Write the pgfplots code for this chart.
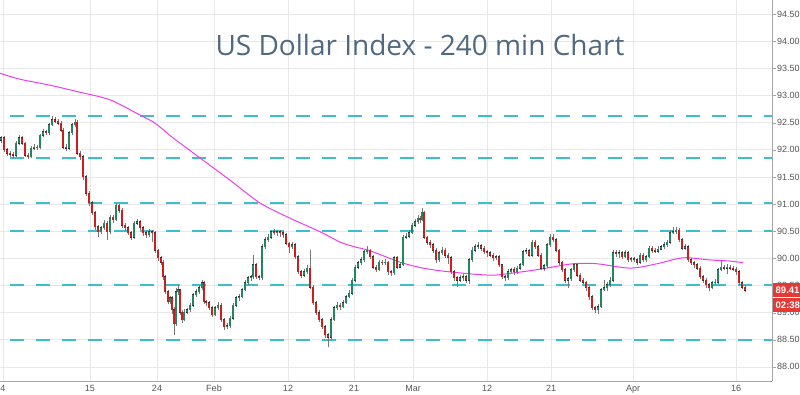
\documentclass[border=0pt]{standalone}
\usepackage{pgfplots}
\pgfplotsset{compat=1.18}
\usepackage{pgfplotstable}
\usepackage{fontspec}
\setmainfont{Liberation Sans}
\newfontfamily\titlefont{Open Sans}
\definecolor{upg}{RGB}{34,135,95}
\definecolor{dnr}{RGB}{205,30,30}
\definecolor{wickc}{RGB}{120,120,120}
\definecolor{dashc}{RGB}{60,190,205}
\definecolor{mac}{RGB}{240,60,240}
\definecolor{gridc}{RGB}{232,232,232}
\definecolor{labc}{RGB}{85,85,85}
\definecolor{titc}{RGB}{80,104,128}
\definecolor{boxr}{RGB}{229,57,53}

\pgfplotstableread{
x o h l c
1 92.18 92.26 92.12 92.22
4 92.22 92.25 91.96 92.00
7 92.00 92.04 91.88 91.94
10 91.94 91.98 91.86 91.92
13 91.92 91.95 91.84 91.90
16 91.90 92.16 91.87 92.12
19 92.12 92.27 92.09 92.22
22 92.22 92.25 92.08 92.12
25 92.12 92.14 91.86 91.90
28 91.90 91.94 91.83 91.87
31 91.87 92.07 91.84 92.03
34 92.03 92.10 91.99 92.05
37 92.05 92.09 92.00 92.04
40 92.04 92.30 92.02 92.27
43 92.27 92.38 92.24 92.33
46 92.33 92.37 92.27 92.31
49 92.31 92.50 92.28 92.46
52 92.46 92.62 92.43 92.55
55 92.55 92.60 92.49 92.53
58 92.53 92.57 92.45 92.49
61 92.49 92.53 92.32 92.36
63 92.36 92.40 92.01 92.05
66 92.05 92.10 91.98 92.03
69 92.03 92.35 92.00 92.31
72 92.31 92.50 92.28 92.46
75 92.46 92.56 92.42 92.51
77 92.51 92.54 91.90 91.94
80 91.94 91.97 91.82 91.87
83 91.87 91.90 91.45 91.50
86 91.50 91.53 91.15 91.20
89 91.20 91.24 90.97 91.02
92 91.02 91.06 90.79 90.84
95 90.84 90.88 90.52 90.58
98 90.58 90.62 90.40 90.49
101 90.49 90.60 90.44 90.56
104 90.56 90.70 90.52 90.65
107 90.65 90.68 90.33 90.49
110 90.49 90.80 90.45 90.76
113 90.76 90.80 90.66 90.71
116 90.71 91.02 90.68 90.98
119 90.98 91.01 90.84 90.89
122 90.89 90.92 90.56 90.61
125 90.61 90.66 90.50 90.56
128 90.56 90.60 90.43 90.47
131 90.47 90.50 90.33 90.39
134 90.39 90.69 90.36 90.65
137 90.65 90.72 90.61 90.67
140 90.67 90.70 90.52 90.56
143 90.56 90.60 90.42 90.47
146 90.47 90.51 90.38 90.43
149 90.43 90.54 90.40 90.49
152 90.49 90.52 90.30 90.47
155 90.47 90.50 90.10 90.15
158 90.15 90.18 89.96 90.01
161 90.01 90.05 89.88 89.93
163 89.93 89.97 89.61 89.66
165 89.66 89.70 89.34 89.38
168 89.38 89.42 89.15 89.20
170 89.20 89.31 89.16 89.27
172 89.27 89.31 88.98 89.05
174 89.05 89.10 88.58 88.80
176 88.80 89.45 88.76 89.38
178 89.38 89.50 89.33 89.42
180 89.42 89.44 88.96 89.01
182 89.01 89.05 88.80 88.87
184 88.87 89.06 88.84 89.01
187 89.01 89.09 88.98 89.05
190 89.05 89.18 89.01 89.14
193 89.14 89.37 89.11 89.33
196 89.33 89.43 89.29 89.38
199 89.38 89.50 89.34 89.46
202 89.46 89.60 89.42 89.55
204 89.55 89.58 89.15 89.20
206 89.20 89.24 89.12 89.18
209 89.18 89.22 89.04 89.09
212 89.09 89.12 88.92 88.96
215 88.96 89.13 88.93 89.09
218 89.09 89.20 89.05 89.14
221 89.14 89.17 88.83 88.87
224 88.87 88.90 88.68 88.74
227 88.74 88.80 88.70 88.76
230 88.76 88.94 88.72 88.90
233 88.90 89.18 88.87 89.14
236 89.14 89.31 89.11 89.27
239 89.27 89.34 89.22 89.29
242 89.29 89.46 89.26 89.42
245 89.42 89.60 89.39 89.55
248 89.55 89.68 89.50 89.64
251 89.64 89.70 89.58 89.66
253 89.66 90.07 89.62 89.88
256 89.88 89.92 89.62 89.66
259 89.66 89.70 89.60 89.64
262 89.64 90.26 89.60 90.21
265 90.21 90.39 90.17 90.34
268 90.34 90.44 90.30 90.39
271 90.39 90.53 90.36 90.49
274 90.49 90.54 90.43 90.47
277 90.47 90.53 90.41 90.49
280 90.49 90.52 90.40 90.47
283 90.47 90.50 90.38 90.43
286 90.43 90.46 90.24 90.28
289 90.28 90.31 90.10 90.21
292 90.21 90.30 90.17 90.25
295 90.25 90.28 89.98 90.03
298 90.03 90.06 89.71 89.75
301 89.75 89.78 89.64 89.69
304 89.69 89.80 89.66 89.75
307 89.75 89.88 89.72 89.82
310 89.82 90.15 89.43 89.47
313 89.47 89.50 89.14 89.18
316 89.18 89.22 88.95 89.00
319 89.00 89.04 88.82 88.87
322 88.87 88.90 88.69 88.74
325 88.74 88.78 88.53 88.59
328 88.59 88.62 88.37 88.55
331 88.55 88.91 88.50 88.87
334 88.87 89.13 88.84 89.09
337 89.09 89.19 89.05 89.14
340 89.14 89.18 89.04 89.11
343 89.11 89.23 89.08 89.18
346 89.18 89.33 89.15 89.29
349 89.29 89.41 89.26 89.36
352 89.36 89.64 89.33 89.60
355 89.60 89.88 89.57 89.84
358 89.84 89.96 89.80 89.92
361 89.92 90.02 89.88 89.97
364 89.97 90.16 89.93 90.12
367 90.12 90.22 90.08 90.15
370 90.15 90.18 89.99 90.03
373 90.03 90.06 89.80 89.84
376 89.84 89.88 89.74 89.79
379 89.79 89.97 89.76 89.93
382 89.93 89.97 89.87 89.92
385 89.92 89.98 89.88 89.93
388 89.93 89.96 89.70 89.75
391 89.75 89.79 89.68 89.73
394 89.73 90.05 89.70 90.01
397 90.01 90.04 89.80 89.84
400 89.84 89.93 89.83 89.88
403 89.88 90.43 89.85 90.39
406 90.39 90.46 90.35 90.41
409 90.41 90.52 90.38 90.47
412 90.47 90.66 90.44 90.61
415 90.61 90.72 90.58 90.67
418 90.67 90.79 90.64 90.74
420 90.74 90.78 90.66 90.71
422 90.71 90.93 90.68 90.85
424 90.85 90.88 90.35 90.39
427 90.39 90.42 90.25 90.30
430 90.30 90.33 90.19 90.25
433 90.25 90.28 90.10 90.15
436 90.15 90.19 89.92 89.97
439 89.97 90.14 89.94 90.10
442 90.10 90.20 90.06 90.15
445 90.15 90.19 90.01 90.06
448 90.06 90.10 89.90 90.01
451 90.01 90.04 89.71 89.75
454 89.75 89.78 89.58 89.64
457 89.64 89.67 89.48 89.60
460 89.60 89.70 89.56 89.64
463 89.64 89.71 89.58 89.66
466 89.66 89.70 89.55 89.60
469 89.60 90.00 89.52 89.97
472 89.97 90.20 89.93 90.15
475 90.15 90.26 90.12 90.21
478 90.21 90.30 90.17 90.23
481 90.23 90.26 90.14 90.19
484 90.19 90.22 90.08 90.12
487 90.12 90.15 90.03 90.10
490 90.10 90.13 90.02 90.06
493 90.06 90.10 89.96 90.01
496 90.01 90.07 89.97 90.03
499 90.03 90.06 89.84 89.88
502 89.88 89.90 89.62 89.66
505 89.66 89.70 89.58 89.64
508 89.64 89.80 89.60 89.75
511 89.75 89.83 89.73 89.79
514 89.79 89.84 89.70 89.75
517 89.75 89.86 89.72 89.82
520 89.82 89.92 89.78 89.88
523 89.88 90.16 89.85 90.12
526 90.12 90.19 90.08 90.14
529 90.14 90.18 90.02 90.06
532 90.06 90.34 90.03 90.30
535 90.30 90.33 90.17 90.21
538 90.21 90.25 90.02 90.06
541 90.06 90.09 89.78 89.82
544 89.82 89.90 89.77 89.86
547 89.86 90.29 89.83 90.25
550 90.25 90.44 90.21 90.39
553 90.39 90.44 90.30 90.34
556 90.34 90.37 90.11 90.15
559 90.15 90.18 89.88 89.93
562 89.93 89.96 89.74 89.79
565 89.79 89.82 89.55 89.60
568 89.60 89.66 89.46 89.62
571 89.62 89.83 89.58 89.79
574 89.79 89.92 89.75 89.88
577 89.88 89.90 89.65 89.69
580 89.69 89.73 89.56 89.60
583 89.60 89.64 89.52 89.56
586 89.56 89.59 89.40 89.46
589 89.46 89.49 89.24 89.29
592 89.29 89.32 89.05 89.09
595 89.09 89.12 89.00 89.05
598 89.05 89.15 88.98 89.11
601 89.11 89.46 89.08 89.42
604 89.42 89.60 89.40 89.46
607 89.46 89.56 89.40 89.51
610 89.51 89.65 89.48 89.60
613 89.60 90.15 89.57 90.10
616 90.10 90.15 90.03 90.08
619 90.08 90.16 90.00 90.10
622 90.10 90.14 89.99 90.03
625 90.03 90.15 90.00 90.10
628 90.10 90.13 89.93 89.97
631 89.97 90.03 89.94 89.99
634 89.99 90.03 89.93 89.97
637 89.97 90.01 89.88 89.93
640 89.93 90.10 89.90 90.06
643 90.06 90.10 89.93 89.97
646 89.97 90.07 89.94 90.03
649 90.03 90.23 90.00 90.19
652 90.19 90.22 90.10 90.15
655 90.15 90.19 90.09 90.13
658 90.13 90.22 90.10 90.17
661 90.17 90.25 90.15 90.21
664 90.21 90.30 90.18 90.25
667 90.25 90.34 90.21 90.30
670 90.30 90.52 90.27 90.47
673 90.47 90.57 90.44 90.49
676 90.49 90.58 90.45 90.52
679 90.52 90.56 90.30 90.34
682 90.34 90.37 90.15 90.19
685 90.19 90.26 90.15 90.21
688 90.21 90.24 89.93 89.97
691 89.97 90.00 89.87 89.92
694 89.92 89.95 89.83 89.88
697 89.88 89.91 89.78 89.82
700 89.82 89.85 89.62 89.66
703 89.66 89.70 89.55 89.60
706 89.60 89.64 89.46 89.51
709 89.51 89.55 89.40 89.46
712 89.46 89.59 89.43 89.55
715 89.55 89.62 89.50 89.56
718 89.56 89.83 89.53 89.79
721 89.79 89.97 89.76 89.84
724 89.84 89.88 89.78 89.82
727 89.82 89.89 89.72 89.84
730 89.84 89.88 89.78 89.82
733 89.82 89.86 89.76 89.80
736 89.80 89.84 89.70 89.75
739 89.75 89.78 89.50 89.55
742 89.55 89.58 89.44 89.47
745 89.47 89.50 89.38 89.41
}\candles

\begin{document}
\begin{tikzpicture}
\begin{axis}[
  at={(0,0)}, anchor=south west,
  scale only axis, width=772pt, height=381pt,
  xmin=0, xmax=772, ymin=87.74, ymax=94.76,
  axis x line*=bottom, axis y line*=right,
  axis line style={draw=gray!70},
  xtick={3,90,157,214,288,354,413,487,551,633,736},
  xticklabels={4,15,24,Feb,12,21,Mar,12,21,Apr,16},
  ytick={88,88.5,89,89.5,90,90.5,91,91.5,92,92.5,93,93.5,94,94.5},
  grid=major, major grid style={draw=gridc, line width=0.6pt},
  tick align=outside, major tick length=4pt,
  xtick style={draw=none}, ytick style={draw=gray!70},
  tick label style={font=\fontsize{9}{10}\selectfont, text=labc},
  /pgf/number format/assume math mode=true,
  yticklabel style={/pgf/number format/.cd, fixed, fixed zerofill, precision=2, /tikz/.cd, xshift=-2.5pt},
  xticklabel style={yshift=3.5pt},
]
% dashed levels
\addplot[dashc, line width=2pt, dash pattern=on 14pt off 12pt, dash phase=16pt, forget plot] coordinates {(0,92.62) (772,92.62)};
\addplot[dashc, line width=2pt, dash pattern=on 14pt off 12pt, dash phase=16pt, forget plot] coordinates {(0,91.85) (772,91.85)};
\addplot[dashc, line width=2pt, dash pattern=on 14pt off 12pt, dash phase=16pt, forget plot] coordinates {(0,91.02) (772,91.02)};
\addplot[dashc, line width=2pt, dash pattern=on 14pt off 12pt, dash phase=16pt, forget plot] coordinates {(0,90.50) (772,90.50)};
\addplot[dashc, line width=2pt, dash pattern=on 14pt off 12pt, dash phase=16pt, forget plot] coordinates {(0,89.51) (772,89.51)};
\addplot[dashc, line width=2pt, dash pattern=on 14pt off 12pt, dash phase=16pt, forget plot] coordinates {(0,88.50) (772,88.50)};
% moving average
\addplot[mac, line width=1pt, smooth, tension=0.5] coordinates {
(0,93.41) (20,93.30) (50,93.19) (80,93.06) (110,92.92) (140,92.64) (155,92.49)
(173,92.22) (200,91.85) (230,91.44) (260,91.02) (290,90.74) (320,90.49) (340,90.30)
(355,90.21) (370,90.14) (400,89.93) (423,89.82) (450,89.75) (490,89.69) (513,89.73)
(540,89.80) (573,89.90) (597,89.90) (630,89.82) (657,89.90) (683,90.01) (710,89.97)
(730,89.95) (743,89.92)};
% wicks
\addplot[draw=none, mark=none, forget plot, error bars/.cd, y dir=plus, y explicit, error mark=none,
  error bar style={line width=0.6pt, draw=wickc, solid}]
  table[x=x, y=l, y error expr={\thisrow{h}-\thisrow{l}}] {\candles};
% body outlines
\addplot[draw=none, mark=none, forget plot, error bars/.cd, y dir=plus, y explicit, error mark=none,
  error bar style={line width=2.7pt, draw=black!80, solid, shorten <=-0.5pt, shorten >=-0.5pt}]
  table[x=x, y expr={min(\thisrow{o},\thisrow{c})}, y error expr={abs(\thisrow{c}-\thisrow{o})}] {\candles};
% up bodies
\addplot[draw=none, mark=none, forget plot, restrict expr to domain={\thisrow{c}-\thisrow{o}}{0:10},
  error bars/.cd, y dir=plus, y explicit, error mark=none,
  error bar style={line width=2pt, draw=upg, solid, shorten <=-0.1pt, shorten >=-0.1pt}]
  table[x=x, y=o, y error expr={\thisrow{c}-\thisrow{o}}] {\candles};
% down bodies
\addplot[draw=none, mark=none, forget plot, restrict expr to domain={\thisrow{o}-\thisrow{c}}{0.001:10},
  error bars/.cd, y dir=plus, y explicit, error mark=none,
  error bar style={line width=2pt, draw=dnr, solid, shorten <=-0.1pt, shorten >=-0.1pt}]
  table[x=x, y=c, y error expr={\thisrow{o}-\thisrow{c}}] {\candles};
\node[font=\titlefont\fontsize{28}{32}\selectfont, text=titc] at (axis cs:420,93.93) {US Dollar Index - 240 min Chart};
\coordinate (lp) at (axis cs:772,89.41);
\end{axis}
\node[fill=boxr, text=white, font=\bfseries\fontsize{9.5}{10}\selectfont, anchor=west, inner sep=2.5pt, minimum height=14pt] at ([xshift=1pt]lp) {89.41};
\node[fill=boxr, text=white, font=\bfseries\fontsize{9.5}{10}\selectfont, anchor=north west, inner sep=2.5pt, minimum height=14pt] at ([xshift=1pt,yshift=-7.5pt]lp) {02:38:35};
\pgfresetboundingbox
\path[use as bounding box] (0,-14pt) rectangle (800pt,381pt);
\end{tikzpicture}
\end{document}
